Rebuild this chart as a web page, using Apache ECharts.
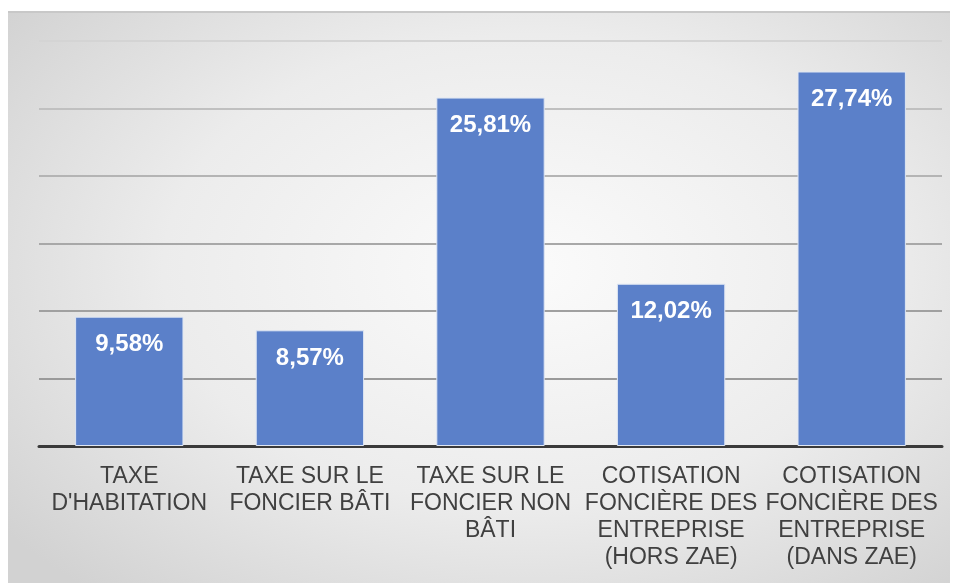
<!DOCTYPE html>
<html>
<head>
<meta charset="utf-8">
<script src="https://cdn.jsdelivr.net/npm/echarts@6/dist/echarts.min.js"></script>
<style>
html,body{margin:0;padding:0;background:#fff;width:958px;height:583px;overflow:hidden;}
#panel{position:absolute;left:8px;top:11px;width:942px;height:572px;
background:radial-gradient(ellipse 70% 75% at 55% 45%, #fbfbfb 0%, #ececec 55%, #d2d2d2 100%);
border-top:2px solid #c8c8c8;box-sizing:border-box;}
#chart{position:absolute;left:0;top:0;width:942px;height:570px;}
</style>
</head>
<body>
<div id="panel"><div id="chart"></div></div>
<script>
const categories = [
  "TAXE\nD'HABITATION",
  "TAXE SUR LE\nFONCIER BÂTI",
  "TAXE SUR LE\nFONCIER NON\nBÂTI",
  "COTISATION\nFONCIÈRE DES\nENTREPRISE\n(HORS ZAE)",
  "COTISATION\nFONCIÈRE DES\nENTREPRISE\n(DANS ZAE)"
];
const values = [9.58, 8.57, 25.81, 12.02, 27.74];
const valueLabels = ["9,58%", "8,57%", "25,81%", "12,02%", "27,74%"];

const chart = echarts.init(document.getElementById('chart'));
chart.setOption({
  animation: false,
  grid: {left: 31, right: 8, top: 28, bottom: 137, containLabel: false},
  xAxis: {
    type: 'category',
    data: categories,
    axisTick: {show: false},
    axisLine: {lineStyle: {color: '#3a3a3a', width: 3}},
    axisLabel: {
      color: '#404040', fontSize: 23, fontFamily: 'Liberation Sans, Arial, sans-serif',
      lineHeight: 27, margin: 17, interval: 0, align: 'center'
    }
  },
  yAxis: {
    type: 'value', min: 0, max: 30, interval: 5,
    axisLabel: {show: false},
    axisLine: {show: false},
    axisTick: {show: false},
    splitLine: {lineStyle: {color: ['#9a9a9a','#9a9a9a','#a0a0a0','#a8a8a8','#b4b4b4','#c0c0c0','#d4d4d4'], width: 2}}
  },
  series: [{
    type: 'bar',
    data: values,
    barCategoryGap: '40%',
    itemStyle: {color: '#5b80c9', borderColor: '#dfe6f3', borderWidth: 1},
    label: {
      show: true, position: 'insideTop', distance: 16,
      color: '#ffffff', fontWeight: 'bold', fontSize: 24,
      fontFamily: 'Liberation Sans, Arial, sans-serif',
      formatter: p => valueLabels[p.dataIndex]
    }
  }]
});
</script>
</body>
</html>
